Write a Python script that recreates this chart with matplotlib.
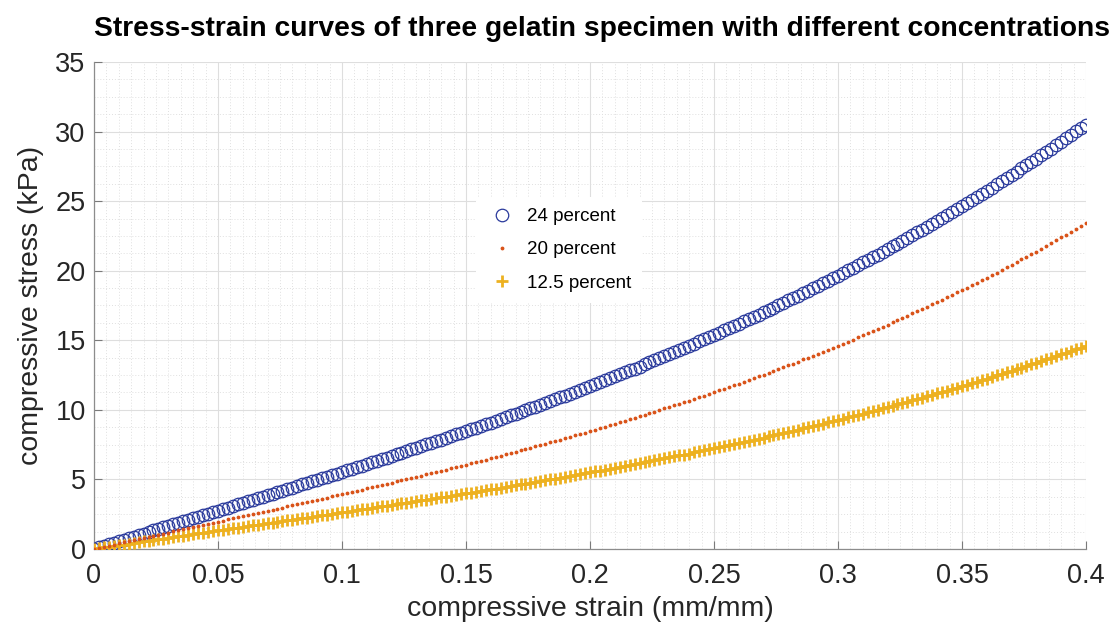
import numpy as np
import matplotlib
matplotlib.use('Agg')
import matplotlib.pyplot as plt
from matplotlib.ticker import MultipleLocator

# strain samples every 0.002 mm/mm from 0 to 0.4
strain = np.round(np.arange(201) * 0.002, 3)

# compressive stress (kPa), 24 percent gelatin
stress_24 = [
    0.00, 0.11, 0.22, 0.33, 0.44, 0.56, 0.67, 0.78, 0.89, 1.00,
    1.11, 1.22, 1.33, 1.44, 1.55, 1.66, 1.77, 1.88, 1.99, 2.10,
    2.21, 2.32, 2.43, 2.54, 2.65, 2.76, 2.87, 2.98, 3.09, 3.20,
    3.31, 3.42, 3.53, 3.64, 3.75, 3.86, 3.97, 4.08, 4.19, 4.30,
    4.41, 4.53, 4.64, 4.75, 4.86, 4.97, 5.09, 5.20, 5.31, 5.42,
    5.53, 5.65, 5.76, 5.88, 5.99, 6.11, 6.22, 6.34, 6.45, 6.57,
    6.68, 6.80, 6.92, 7.03, 7.15, 7.27, 7.39, 7.51, 7.63, 7.74,
    7.86, 7.98, 8.11, 8.23, 8.35, 8.47, 8.60, 8.72, 8.84, 8.96,
    9.09, 9.21, 9.34, 9.47, 9.60, 9.72, 9.85, 9.98, 10.11, 10.23,
    10.36, 10.50, 10.63, 10.76, 10.90, 11.03, 11.17, 11.30, 11.43, 11.57,
    11.70, 11.84, 11.98, 12.12, 12.26, 12.41, 12.55, 12.69, 12.83, 12.97,
    13.11, 13.26, 13.41, 13.56, 13.71, 13.86, 14.00, 14.15, 14.30, 14.45,
    14.60, 14.76, 14.92, 15.07, 15.23, 15.39, 15.55, 15.71, 15.86, 16.02,
    16.18, 16.35, 16.51, 16.68, 16.85, 17.02, 17.19, 17.35, 17.52, 17.69,
    17.86, 18.04, 18.21, 18.39, 18.57, 18.75, 18.93, 19.11, 19.29, 19.46,
    19.64, 19.83, 20.02, 20.21, 20.40, 20.59, 20.78, 20.97, 21.16, 21.35,
    21.54, 21.75, 21.95, 22.15, 22.36, 22.56, 22.76, 22.96, 23.17, 23.37,
    23.57, 23.79, 24.00, 24.22, 24.44, 24.65, 24.87, 25.09, 25.30, 25.52,
    25.73, 25.97, 26.20, 26.43, 26.66, 26.89, 27.12, 27.35, 27.58, 27.81,
    28.04, 28.29, 28.53, 28.78, 29.03, 29.27, 29.52, 29.76, 30.01, 30.26,
    30.50,
]

# 20 percent gelatin
stress_20 = [
    0.00, 0.08, 0.16, 0.24, 0.32, 0.40, 0.48, 0.55, 0.63, 0.71,
    0.79, 0.87, 0.95, 1.03, 1.10, 1.18, 1.26, 1.34, 1.42, 1.50,
    1.57, 1.65, 1.73, 1.81, 1.89, 1.96, 2.04, 2.12, 2.20, 2.28,
    2.35, 2.43, 2.51, 2.59, 2.67, 2.75, 2.83, 2.90, 2.98, 3.06,
    3.14, 3.22, 3.30, 3.38, 3.46, 3.54, 3.62, 3.70, 3.78, 3.86,
    3.94, 4.02, 4.11, 4.19, 4.27, 4.35, 4.44, 4.52, 4.60, 4.68,
    4.77, 4.85, 4.94, 5.02, 5.11, 5.19, 5.28, 5.37, 5.45, 5.54,
    5.62, 5.71, 5.80, 5.89, 5.98, 6.07, 6.16, 6.25, 6.34, 6.43,
    6.52, 6.61, 6.71, 6.80, 6.89, 6.99, 7.08, 7.18, 7.27, 7.37,
    7.46, 7.56, 7.66, 7.76, 7.86, 7.96, 8.06, 8.16, 8.26, 8.36,
    8.46, 8.57, 8.67, 8.78, 8.89, 8.99, 9.10, 9.21, 9.31, 9.42,
    9.53, 9.64, 9.75, 9.87, 9.98, 10.10, 10.21, 10.32, 10.44, 10.55,
    10.66, 10.79, 10.91, 11.03, 11.15, 11.27, 11.40, 11.52, 11.64, 11.76,
    11.88, 12.01, 12.15, 12.28, 12.41, 12.54, 12.67, 12.80, 12.93, 13.06,
    13.19, 13.33, 13.47, 13.62, 13.76, 13.90, 14.04, 14.18, 14.32, 14.46,
    14.60, 14.75, 14.90, 15.05, 15.21, 15.36, 15.51, 15.66, 15.81, 15.96,
    16.11, 16.28, 16.44, 16.60, 16.77, 16.93, 17.09, 17.25, 17.42, 17.58,
    17.74, 17.92, 18.09, 18.27, 18.44, 18.62, 18.79, 18.97, 19.14, 19.32,
    19.49, 19.68, 19.87, 20.06, 20.25, 20.44, 20.62, 20.81, 21.00, 21.19,
    21.38, 21.58, 21.78, 21.98, 22.19, 22.39, 22.59, 22.79, 23.00, 23.20,
    23.40,
]

# 12.5 percent gelatin
stress_12 = [
    0.00, 0.05, 0.11, 0.16, 0.22, 0.27, 0.32, 0.38, 0.43, 0.48,
    0.54, 0.59, 0.64, 0.70, 0.75, 0.80, 0.85, 0.91, 0.96, 1.01,
    1.07, 1.12, 1.17, 1.22, 1.27, 1.33, 1.38, 1.43, 1.48, 1.53,
    1.59, 1.64, 1.69, 1.74, 1.79, 1.85, 1.90, 1.95, 2.00, 2.05,
    2.11, 2.16, 2.21, 2.26, 2.32, 2.37, 2.42, 2.47, 2.53, 2.58,
    2.63, 2.68, 2.74, 2.79, 2.84, 2.90, 2.95, 3.00, 3.06, 3.11,
    3.16, 3.22, 3.27, 3.33, 3.38, 3.44, 3.49, 3.55, 3.60, 3.66,
    3.71, 3.77, 3.83, 3.88, 3.94, 4.00, 4.05, 4.11, 4.17, 4.22,
    4.28, 4.34, 4.40, 4.46, 4.52, 4.58, 4.64, 4.70, 4.76, 4.82,
    4.88, 4.94, 5.00, 5.06, 5.13, 5.19, 5.25, 5.31, 5.38, 5.44,
    5.50, 5.57, 5.63, 5.70, 5.76, 5.83, 5.90, 5.96, 6.03, 6.09,
    6.16, 6.23, 6.30, 6.37, 6.44, 6.51, 6.58, 6.65, 6.72, 6.79,
    6.86, 6.94, 7.01, 7.09, 7.16, 7.24, 7.31, 7.39, 7.46, 7.54,
    7.61, 7.69, 7.77, 7.85, 7.93, 8.01, 8.09, 8.17, 8.25, 8.33,
    8.41, 8.50, 8.58, 8.67, 8.76, 8.84, 8.93, 9.01, 9.10, 9.18,
    9.27, 9.36, 9.45, 9.55, 9.64, 9.73, 9.82, 9.91, 10.01, 10.10,
    10.19, 10.29, 10.39, 10.49, 10.59, 10.68, 10.78, 10.88, 10.98, 11.08,
    11.18, 11.28, 11.39, 11.50, 11.60, 11.71, 11.81, 11.92, 12.03, 12.13,
    12.24, 12.35, 12.47, 12.58, 12.69, 12.81, 12.92, 13.04, 13.15, 13.26,
    13.38, 13.50, 13.62, 13.74, 13.87, 13.99, 14.11, 14.23, 14.36, 14.48,
    14.60,
]

labels = ['24 percent', '20 percent', '12.5 percent']
xtick_labels = ['0', '0.05', '0.1', '0.15', '0.2', '0.25', '0.3', '0.35', '0.4']

plt.rcParams['font.family'] = ['Liberation Sans', 'DejaVu Sans']

fig = plt.figure(figsize=(11.2, 6.3), dpi=100)
ax = fig.add_axes([0.0839, 0.1286, 0.8857, 0.7730])

ax.plot(strain, stress_24, linestyle='none', marker='o', markersize=9,
        markerfacecolor='none', markeredgecolor='#2a3a9c', markeredgewidth=0.9,
        label=labels[0], zorder=3)
ax.plot(strain, stress_20, linestyle='none', marker='.', markersize=3.5,
        color='#D95319', label=labels[1], zorder=4)
ax.plot(strain, stress_12, linestyle='none', marker='+', markersize=8.5,
        markeredgewidth=2.0, color='#EDB120', label=labels[2], zorder=3)

ax.set_xlim(0, 0.4)
ax.set_ylim(0, 35)
ax.xaxis.set_major_locator(MultipleLocator(0.05))
ax.yaxis.set_major_locator(MultipleLocator(5))
ax.xaxis.set_minor_locator(MultipleLocator(0.005))
ax.yaxis.set_minor_locator(MultipleLocator(1.25))
ax.set_xticks(np.arange(0, 0.401, 0.05))
ax.set_xticklabels(xtick_labels)

ax.grid(which='major', color='#dedede', linewidth=0.8, linestyle='-')
ax.grid(which='minor', color='#e0e0e0', linewidth=0.7, linestyle=(0, (1, 2)))
ax.set_axisbelow(True)

for side in ['top', 'right']:
    ax.spines[side].set_visible(False)
for side in ['left', 'bottom']:
    ax.spines[side].set_color('#8c8c8c')
    ax.spines[side].set_linewidth(0.9)

ax.tick_params(which='major', direction='in', length=6, width=0.8,
               colors='#7a7a7a', labelcolor='#262626', labelsize=19.5, pad=6)
ax.tick_params(axis='x', which='major', pad=10)
ax.tick_params(which='minor', length=0)

ax.set_xlabel('compressive strain (mm/mm)', fontsize=20.5, color='#262626', labelpad=5)
ax.set_ylabel('compressive stress (kPa)', fontsize=20.5, color='#262626', labelpad=8)
ax.set_title('Stress-strain curves of three gelatin specimen with different concentrations',
             fontsize=20.3, fontweight='bold', color='black', pad=19, x=0.512)

leg = ax.legend(loc='upper left', bbox_to_anchor=(0.376, 0.742), fontsize=13.5,
                frameon=True, facecolor='white', edgecolor='white', framealpha=1,
                handletextpad=0.6, labelspacing=0.85, borderpad=0.6,
                markerscale=1.0, handlelength=1.5)
leg.get_frame().set_linewidth(0)

fig.savefig('out.png', dpi=100, facecolor='white')
